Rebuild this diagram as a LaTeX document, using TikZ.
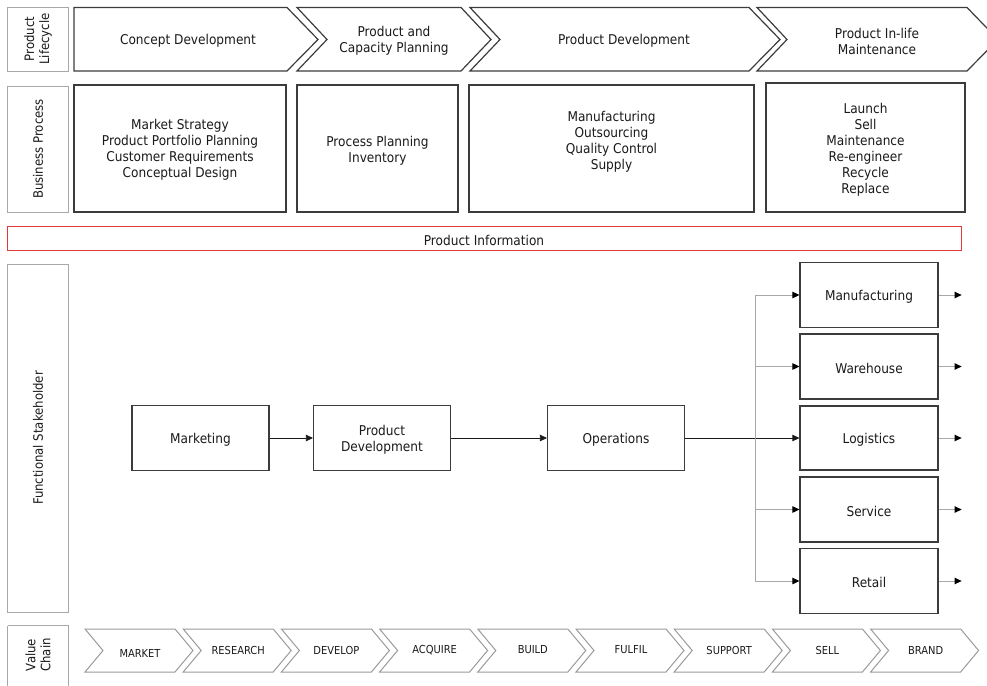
\documentclass[tikz,border=0pt]{standalone}
\usepackage{fontspec}
\setmainfont{DejaVu Sans}[FakeStretch=0.9]
\usetikzlibrary{arrows.meta}
\definecolor{edge}{HTML}{3C3C3C}
\definecolor{lanegray}{HTML}{A8A8A8}
\definecolor{chevgray}{HTML}{9A9A9A}
\definecolor{infored}{HTML}{E53935}
\definecolor{ink}{HTML}{1A1A1A}
\begin{document}
\begin{tikzpicture}[x=1pt,y=-1pt,
  every node/.style={text=ink},
  txt/.style={font=\fontsize{13.5}{16}\selectfont, align=center, inner sep=0pt, yshift=-1.5pt},
  small/.style={font=\fontsize{11}{13}\selectfont, inner sep=0pt},
  lane/.style={draw=lanegray, line width=1pt},
  lanetext/.style={font=\fontsize{13}{15}\selectfont, align=center, inner sep=0pt, rotate=90},
  stage/.style={draw=edge, line width=1.2pt, line join=miter},
  box/.style={draw=edge, line width=1.2pt, inner sep=0pt},
  vchev/.style={draw=chevgray, line width=1pt, line join=miter},
  flow/.style={draw=ink, line width=0.7pt, -{Triangle[length=7pt,width=6.5pt]}},
  branch/.style={draw=lanegray, line width=1pt},
  tip/.style={-{Triangle[length=7pt,width=6.5pt,fill=black,color=black]}}
]
\useasboundingbox (0,0) rectangle (987,685);

% ---- row labels on the left ----
\draw[lane] (7.5,7.5) rectangle (68,71);
\node[lanetext] (lblPL) at (38,39) {Product\\Lifecycle};
\draw[lane] (7.5,86) rectangle (68,212);
\node[lanetext] (lblBP) at (38,149) {Business Process};
\draw[lane] (7.5,264.5) rectangle (68,612);
\node[lanetext] (lblFS) at (38,438) {Functional Stakeholder};
\draw[lane] (7.5,625.5) -- (68,625.5) -- (68,690) (7.5,690) -- (7.5,625.5);
\node[lanetext] (lblVC) at (38,655) {Value\\Chain};

% ---- product lifecycle stages ----
\draw[stage] (74,7.5) -- (287,7.5) -- (318,39.5) -- (287,71) -- (74,71) -- cycle;
\node[txt] (plc1) at (188,39.5) {Concept Development};
\draw[stage] (297,7.5) -- (461,7.5) -- (491,39.5) -- (461,71) -- (297,71) -- (327,39.5) -- cycle;
\node[txt] (plc2) at (394,39.5) {Product and\\Capacity Planning};
\draw[stage] (470,7.5) -- (749,7.5) -- (780,39.5) -- (749,71) -- (470,71) -- (500,39.5) -- cycle;
\node[txt] (plc3) at (624,39.5) {Product Development};
\draw[stage] (757,7.5) -- (967,7.5) -- (998,39.5) -- (967,71) -- (757,71) -- (787,39.5) -- cycle;
\node[txt] (plc4) at (877,39.5) {Product In-life\\Maintenance};

% ---- business processes ----
\node[box, minimum width=212pt, minimum height=127pt] (bp1) at (180,148.5) {};
\node[txt] (bp1t) at (180,148) {Market Strategy\\Product Portfolio Planning\\Customer Requirements\\Conceptual Design};
\node[box, minimum width=161pt, minimum height=127pt] (bp2) at (377.5,148.5) {};
\node[txt] (bp2t) at (377.5,149) {Process Planning\\Inventory};
\node[box, minimum width=285pt, minimum height=127pt] (bp3) at (611.5,148.5) {};
\node[txt] (bp3t) at (611.5,140) {Manufacturing\\Outsourcing\\Quality Control\\Supply};
\node[box, minimum width=199pt, minimum height=129pt] (bp4) at (865.5,147.5) {};
\node[txt] (bp4t) at (865.5,148) {Launch\\Sell\\Maintenance\\Re-engineer\\Recycle\\Replace};

% ---- shared information band ----
\node[draw=infored, line width=1pt, minimum width=954pt, minimum height=24.5pt, inner sep=0pt] (info) at (484.5,238.5) {};
\node[txt] (infot) at (484,238.5) {Product Information};

% ---- functional stakeholders ----
\node[box, minimum width=137pt, minimum height=65pt] (mkt) at (200.5,438) {};
\node[txt] at (mkt) {Marketing};
\node[box, minimum width=137pt, minimum height=65pt] (pd) at (382,438) {};
\node[txt] at (pd) {Product\\Development};
\node[box, minimum width=137pt, minimum height=65pt] (ops) at (616,438) {};
\node[txt] at (ops) {Operations};

\node[box, minimum width=138pt, minimum height=65pt] (man) at (869,295) {};
\node[txt] at (man) {Manufacturing};
\node[box, minimum width=138pt, minimum height=65pt] (war) at (869,366.5) {};
\node[txt] at (war) {Warehouse};
\node[box, minimum width=138pt, minimum height=64pt] (log) at (869,438) {};
\node[txt] at (log) {Logistics};
\node[box, minimum width=138pt, minimum height=65pt] (ser) at (869,509.5) {};
\node[txt] at (ser) {Service};
\node[box, minimum width=138pt, minimum height=65pt] (ret) at (869,581) {};
\node[txt] at (ret) {Retail};

% main flow
\draw[flow] (mkt) -- (pd);
\draw[flow] (pd) -- (ops);
\draw[flow] (ops) -- (log);

% distribution bus feeding the downstream functions
\coordinate (busTop) at (755,295);
\coordinate (busBot) at (755,581);
\draw[branch] (busTop) -- (busBot);
\foreach \n in {man,war,ser,ret}{
  \draw[branch, tip] (755,0 |- \n.west) -- (\n.west);
}
% outputs
\foreach \n in {man,war,log,ser,ret}{
  \coordinate (\n out) at ([xshift=23pt]\n.east);
  \draw[branch, tip] (\n.east) -- (\n out);
}

% ---- value chain ----
\foreach \t/\dy [count=\i from 0] in {MARKET/3,RESEARCH/0,DEVELOP/0,ACQUIRE/0,BUILD/0,FULFIL/0,SUPPORT/0,SELL/0,BRAND/0}{
  \pgfmathsetmacro\xo{85+98.2*\i}
  \draw[vchev] (\xo,629) -- (\xo+90,629) -- (\xo+108,650.5) -- (\xo+90,672) -- (\xo,672) -- (\xo+18,650.5) -- cycle;
  \node[small] (vc\i) at (\xo+55,650+\dy) {\t};
}
\end{tikzpicture}
\end{document}
